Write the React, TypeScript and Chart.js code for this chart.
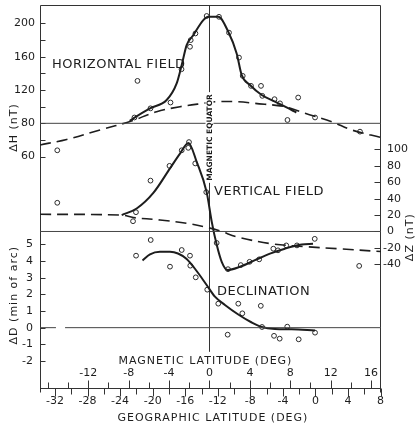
import React, { useEffect, useRef } from 'react';
import { Chart, registerables } from 'chart.js';

Chart.register(...registerables);

// ---------- DATA (x = magnetic latitude, deg) ----------
// Horizontal field ΔH (nT)
const hSolidLat = [-7.9, -7.54, -5.89, -4.24, -3.25, -2.75, -2.26, -1.6, -0.61, -0.12, 0.87, 1.86, 2.69, 3.19, 4.01, 5.17, 6.49, 8.14, 8.6];
const hSolidVal = [83, 86, 98, 108, 128, 150, 174, 186, 204, 208, 208, 190, 164, 138, 126, 114, 106, 96, 93];
const hDashLat = [-16.78, -14.14, -10.84, -7.87, -5.23, -2.92, -0.64, 0.71, 2.85, 4.5, 7.47, 9.46, 12.1, 14.08, 16.98];
const hDashVal = [54, 60.6, 72, 82.2, 94, 100, 104, 106, 106, 104, 100, 92, 82, 72, 63];
const hPtsLat = [-7.13, -7.43, -5.84, -3.86, -2.77, -1.93, -1.86, -1.39, -0.28, 0.94, 1.93, 2.92, 3.29, 4.11, 5.1, 5.23, 6.44, 6.98, 7.72, 8.78, 10.45, 14.9];
const hPtsVal = [131, 87, 98, 105, 145, 172, 180, 188, 209, 208, 189, 159, 137, 125, 125, 113, 109, 104, 84, 111, 87, 70];
const hBaseline = 80;

// Vertical field ΔZ (nT)
const zSolidLat = [-8.69, -7.21, -5.56, -3.91, -2.92, -2.08, -1.27, -0.28, 0.22, 0.71, 1.21, 1.78, 3.02, 4.5, 5.99, 7.47, 9.13, 10.25];
const zSolidVal = [20, 28, 47, 77, 95, 108, 85, 48, 12, -16, -37, -47, -43, -35, -27, -21, -16, -15];
const zDashLat = [-16.78, -8.69, -7.54, -4.9, -2.23, -0.25, 1.04, 2.85, 6.16, 9.46, 12.75, 16.98];
const zDashVal = [21, 20, 17, 14, 10, 5, 0.6, -7, -15, -18.5, -21, -24.5];
const zPtsLat = [-15.07, -15.07, -5.84, -3.96, -2.75, -2.1, -2.03, -1.41, -0.32, -7.28, -7.57, 0.71, 1.83, 3.1, 3.97, 4.92, 6.32, 6.78, 7.6, 8.66, 10.42, 14.82];
const zPtsVal = [99, 35, 62, 80, 99, 102, 109, 83, 48, 23.5, 12.5, -14, -46, -41, -37, -34, -21, -23, -17, -17, -9, -42];
const zBaseline = 0;

// Declination ΔD (min of arc)
const dSolidLat = [-6.63, -5.89, -4.9, -3.91, -3.12, -2.26, -1.27, -0.28, 0.54, 1.53, 2.85, 4.18, 5.17, 6.49, 8.14, 10.45];
const dSolidVal = [4.03, 4.4, 4.55, 4.55, 4.45, 4.12, 3.4, 2.56, 1.86, 1.36, 0.79, 0.31, 0.04, -0.08, -0.1, -0.17];
const dPtsLat = [-7.27, -5.82, -3.91, -2.75, -1.93, -1.9, -1.36, -0.22, 0.87, 1.8, 2.85, 3.25, 5.08, 5.2, 6.39, 6.95, 7.7, 8.83, 10.45];
const dPtsVal = [4.32, 5.26, 3.66, 4.66, 4.32, 3.72, 3.02, 2.28, 1.44, -0.42, 1.44, 0.86, 1.31, 0.04, -0.49, -0.66, 0.06, -0.7, -0.3];
const dBaseline = 0;
const dBaseSegA = [-16.78, -15.2];
const dBaseSegB = [-14.3, 16.98];

// Axis ranges and ticks
const magRange = [-16.78, 16.98];
const geoRange = [-33.84, 8.05];
const hRange = [-238.1, 222.2];
const zRange = [-190.9, 276.2];
const dRange = [-3.62, 19.36];
const equatorEndD = -1.45;

const hTickVals = [200, 180, 160, 140, 120, 100, 80, 60, 40];
const hLabelAt = [200, 160, 120, 80, 40];
const hLabelText = ['200', '160', '120', '80', '60'];
const zTickVals = [100, 80, 60, 40, 20, 0, -20, -40];
const dTickVals = [5, 4, 3, 2, 1, 0, -1, -2];
const magTickVals = [-16, -14, -12, -10, -8, -6, -4, -2, 0, 2, 4, 6, 8, 10, 12, 14, 16];
const magLabelVals = [-12, -8, -4, 0, 4, 8, 12, 16];
const geoTickVals = [-32, -30, -28, -26, -24, -22, -20, -18, -16, -14, -12, -10, -8, -6, -4, -2, 0, 2, 4, 6, 8];
const geoLabelVals = [-32, -28, -24, -20, -16, -12, -8, -4, 0, 4, 8];

// Text labels (anchor positions in data units)
const panelLabels = [
  { text: 'HORIZONTAL FIELD', lat: -15.6, val: 150, axis: 'yH' },
  { text: 'VERTICAL FIELD', lat: 0.45, val: 48.5, axis: 'yZ' },
  { text: 'DECLINATION', lat: 0.74, val: 2.16, axis: 'yD' },
];

const INK = '#1d1d1d';
const FONT = '"DejaVu Sans", "Liberation Sans", sans-serif';

const pts = (xs: number[], ys: number[]) => xs.map((x, i) => ({ x, y: ys[i] }));

function vText(ctx: CanvasRenderingContext2D, text: string, cx: number, cy: number) {
  ctx.save();
  ctx.translate(cx, cy);
  ctx.rotate(-Math.PI / 2);
  ctx.textAlign = 'center';
  ctx.textBaseline = 'middle';
  ctx.fillText(text, 0, 0);
  ctx.restore();
}

const paperPlugin = {
  id: 'paper',
  beforeDatasetsDraw(chart: any) {
    const { ctx, chartArea: a, scales } = chart;
    const x = scales.x, xg = scales.xGeo, yH = scales.yH, yZ = scales.yZ, yD = scales.yD;
    const L = Math.round(a.left) + 0.5;
    const R = Math.round(a.right) - 0.5;
    const T = Math.round(a.top) + 0.5;
    const B = Math.round(a.bottom) + 0.5;
    ctx.save();
    ctx.strokeStyle = '#333';
    ctx.lineWidth = 1;
    ctx.beginPath();
    ctx.moveTo(L, B + 4); ctx.lineTo(L, T); ctx.lineTo(R, T); ctx.lineTo(R, B + 4);
    ctx.moveTo(L, B); ctx.lineTo(R, B);
    const ex = Math.round(x.getPixelForValue(0)) + 0.5;
    ctx.moveTo(ex, T); ctx.lineTo(ex, yD.getPixelForValue(equatorEndD));
    // left ticks (inward)
    hTickVals.forEach(v => { const y = Math.round(yH.getPixelForValue(v)) + 0.5; ctx.moveTo(L, y); ctx.lineTo(L + 5, y); });
    dTickVals.forEach(v => { const y = Math.round(yD.getPixelForValue(v)) + 0.5; ctx.moveTo(L, y); ctx.lineTo(L + 5, y); });
    zTickVals.forEach(v => { const y = Math.round(yZ.getPixelForValue(v)) + 0.5; ctx.moveTo(R - 6, y); ctx.lineTo(R, y); });
    magTickVals.forEach(v => {
      const px = Math.round(x.getPixelForValue(v)) + 0.5;
      const len = magLabelVals.includes(v) ? 8 : 6;
      ctx.moveTo(px, B); ctx.lineTo(px, B - len);
    });
    geoTickVals.forEach(v => {
      const px = Math.round(xg.getPixelForValue(v)) + 0.5;
      const len = geoLabelVals.includes(v) ? 8 : 6;
      ctx.moveTo(px, B); ctx.lineTo(px, B + len);
    });
    ctx.stroke();

    ctx.fillStyle = INK;
    ctx.font = `11px ${FONT}`;
    ctx.textBaseline = 'middle';
    ctx.textAlign = 'right';
    hLabelAt.forEach((v, i) => ctx.fillText(hLabelText[i], a.left - 5, yH.getPixelForValue(v)));
    dTickVals.forEach(v => ctx.fillText(String(v), a.left - 7, dTickVals.indexOf(v) >= 0 ? yD.getPixelForValue(v) : 0));
    ctx.textAlign = 'left';
    const mw = ctx.measureText('-').width;
    zTickVals.forEach(v => {
      const t = String(v);
      ctx.fillText(t, a.right + 6 - (v < 0 ? mw : 0), yZ.getPixelForValue(v));
    });
    ctx.textAlign = 'center';
    magLabelVals.forEach(v => ctx.fillText(String(v), x.getPixelForValue(v), a.bottom - 15));
    geoLabelVals.forEach(v => ctx.fillText(String(v), xg.getPixelForValue(v), a.bottom + 13));

    ctx.letterSpacing = '1px';
    ctx.fillText('MAGNETIC LATITUDE (DEG)', x.getPixelForValue(-0.4), a.bottom - 27);
    ctx.fillText('GEOGRAPHIC LATITUDE (DEG)', xg.getPixelForValue(-12.6), a.bottom + 30);
    vText(ctx, 'ΔH (nT)', 14, yH.getPixelForValue(75));
    vText(ctx, 'ΔD (min of arc)', 14, yD.getPixelForValue(1.95));
    vText(ctx, 'ΔZ (nT)', a.right + 29, yZ.getPixelForValue(-7));
    ctx.restore();
  },
  afterDatasetsDraw(chart: any) {
    const { ctx, scales } = chart;
    const x = scales.x;
    ctx.save();
    ctx.fillStyle = INK;
    ctx.font = `13px ${FONT}`;
    ctx.textAlign = 'left';
    ctx.textBaseline = 'middle';
    ctx.letterSpacing = '0.5px';
    panelLabels.forEach(l => ctx.fillText(l.text, x.getPixelForValue(l.lat), scales[l.axis].getPixelForValue(l.val)));
    // magnetic equator label
    const ex = x.getPixelForValue(0);
    const cy = scales.yH.getPixelForValue(63);
    ctx.font = `bold 7.5px ${FONT}`;
    ctx.letterSpacing = '0px';
    const w = ctx.measureText('MAGNETIC EQUATOR').width;
    ctx.fillStyle = '#fff';
    ctx.fillRect(ex - 4, cy - w / 2 - 2, 8, w + 4);
    ctx.fillStyle = INK;
    vText(ctx, 'MAGNETIC EQUATOR', ex + 0.5, cy);
    ctx.restore();
  },
};

export default function App() {
  const ref = useRef<HTMLCanvasElement | null>(null);
  useEffect(() => {
    if (!ref.current) return;
    const solid = { borderColor: INK, borderWidth: 2, pointRadius: 0, fill: false, cubicInterpolationMode: 'monotone' as const, showLine: true };
    const dashed = { borderColor: INK, borderWidth: 1.6, borderDash: [11, 6], pointRadius: 0, fill: false, tension: 0.35, showLine: true };
    const base = { borderColor: '#444', borderWidth: 1, pointRadius: 0, fill: false, showLine: true };
    const circ = { showLine: false, pointRadius: 2.4, pointBorderWidth: 1, pointBorderColor: '#2a2a2a', pointBackgroundColor: 'rgba(255,255,255,0)', borderColor: '#2a2a2a', backgroundColor: 'rgba(255,255,255,0)' };
    const chart = new Chart(ref.current, {
      type: 'line',
      data: {
        datasets: [
          { ...base, data: pts(magRange, [hBaseline, hBaseline]), xAxisID: 'x', yAxisID: 'yH' },
          { ...base, data: pts(magRange, [zBaseline, zBaseline]), xAxisID: 'x', yAxisID: 'yZ' },
          { ...base, data: pts(dBaseSegA, [dBaseline, dBaseline]), xAxisID: 'x', yAxisID: 'yD' },
          { ...base, data: pts(dBaseSegB, [dBaseline, dBaseline]), xAxisID: 'x', yAxisID: 'yD' },
          { ...dashed, data: pts(hDashLat, hDashVal), xAxisID: 'x', yAxisID: 'yH' },
          { ...solid, data: pts(hSolidLat, hSolidVal), xAxisID: 'x', yAxisID: 'yH' },
          { ...circ, data: pts(hPtsLat, hPtsVal), xAxisID: 'x', yAxisID: 'yH' },
          { ...dashed, data: pts(zDashLat, zDashVal), xAxisID: 'x', yAxisID: 'yZ' },
          { ...solid, data: pts(zSolidLat, zSolidVal), xAxisID: 'x', yAxisID: 'yZ' },
          { ...circ, data: pts(zPtsLat, zPtsVal), xAxisID: 'x', yAxisID: 'yZ' },
          { ...solid, data: pts(dSolidLat, dSolidVal), xAxisID: 'x', yAxisID: 'yD' },
          { ...circ, data: pts(dPtsLat, dPtsVal), xAxisID: 'x', yAxisID: 'yD' },
        ] as any,
      },
      options: {
        responsive: false,
        animation: false,
        devicePixelRatio: 1,
        layout: { padding: { left: 40, right: 37, top: 5, bottom: 36 } },
        plugins: { legend: { display: false }, tooltip: { enabled: false } },
        elements: { point: { hoverRadius: 2.4 } },
        scales: {
          x: { type: 'linear', min: magRange[0], max: magRange[1], display: false },
          xGeo: { type: 'linear', axis: 'x', position: 'bottom', min: geoRange[0], max: geoRange[1], display: false },
          yH: { type: 'linear', axis: 'y', position: 'left', min: hRange[0], max: hRange[1], display: false },
          yZ: { type: 'linear', axis: 'y', position: 'right', min: zRange[0], max: zRange[1], display: false },
          yD: { type: 'linear', axis: 'y', position: 'left', min: dRange[0], max: dRange[1], display: false },
        },
      } as any,
      plugins: [paperPlugin],
    });
    return () => chart.destroy();
  }, []);
  return (
    <div style={{ position: 'absolute', left: 0, top: 0, width: 418, height: 424, background: '#fff' }}>
      <canvas ref={ref} width={418} height={424} style={{ display: 'block', width: 418, height: 424 }} />
    </div>
  );
}
